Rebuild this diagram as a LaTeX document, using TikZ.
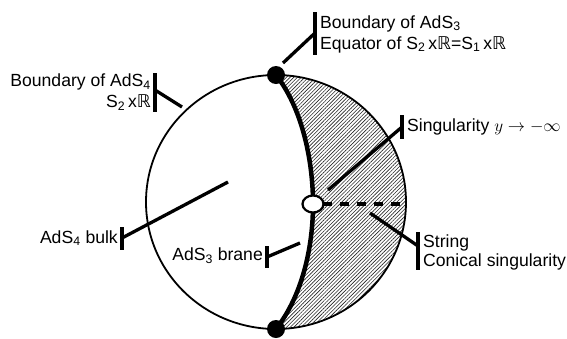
\documentclass[tikz,border=0pt]{standalone}
\usepackage{fontspec}
\setmainfont{Liberation Sans}
\newfontfamily\djv{DejaVu Sans}
\usetikzlibrary{patterns.meta,shapes.geometric}
\newcommand{\RR}{{\djv ℝ}}
\tikzset{
  lbl/.style={font=\fontsize{17.6}{21}\selectfont, inner sep=0pt},
  leader/.style={line width=3.3pt},
  barline/.style={line width=3.3pt},
  rim/.style={line width=1.8pt},
  brane/.style={line width=4.5pt},
}
\begin{document}
\begin{tikzpicture}[x=1pt,y=-1pt]
\useasboundingbox (0,0) rectangle (567,338);
% geometry
\coordinate (C) at (276,202);
\coordinate (T) at (276,75);
\coordinate (B) at (276,329);
\coordinate (Wc) at (313,204);
% hatched region
\fill[pattern={Lines[angle=45,distance=2.6pt,line width=0.6pt]},pattern color=black!85]
  (T) .. controls (302,108) and (313,160) .. (Wc) .. controls (313,248) and (302,296) .. (B)
  arc[start angle=90,end angle=-90,x radius=130,y radius=127] -- cycle;
% outer circle
\draw[rim] (C) ellipse [x radius=130, y radius=127];
% brane
\draw[brane] (T) .. controls (302,108) and (313,160) .. (Wc) .. controls (313,248) and (302,296) .. (B);
% string (dashed)
\coordinate (E) at (406,204);
\draw[line width=3.5pt, dash pattern=on 9pt off 8pt] (Wc) ++(10,0) -- (E);
% dots
\node[circle, fill=black, minimum size=18pt, inner sep=0pt] (dT) at (T) {};
\node[circle, fill=black, minimum size=18pt, inner sep=0pt] (dB) at (B) {};
\node[ellipse, draw=black, line width=2.2pt, fill=white, minimum width=21pt, minimum height=17pt, inner sep=0pt] (W) at (Wc) {};

% label 1
\node[lbl, anchor=west, align=left] (l1) at (320,34) {Boundary of AdS\textsubscript{3}\\Equator of S\textsubscript{2}\,x\RR=S\textsubscript{1}\,x\RR};
\coordinate (b1t) at (315,12); \coordinate (b1b) at (315,55); \coordinate (b1m) at (315,33);
\coordinate (p1) at (283,63);
\draw[barline] (b1t) -- (b1b);
\draw[leader] (b1m) -- (p1);

% label 2
\node[lbl, anchor=east, align=right] (l2) at (151,92) {Boundary of AdS\textsubscript{4}\\S\textsubscript{2}\,x\RR};
\coordinate (b2t) at (155,73); \coordinate (b2b) at (155,112); \coordinate (b2m) at (155,90);
\coordinate (p2) at (182,107);
\draw[barline] (b2t) -- (b2b);
\draw[leader] (b2m) -- (p2);

% label 3
\node[lbl, anchor=west] (l3) at (407,127) {Singularity $y\rightarrow-\infty$};
\coordinate (b3t) at (402,115); \coordinate (b3b) at (402,139); \coordinate (b3m) at (402,127);
\coordinate (p3) at (328,190);
\draw[barline] (b3t) -- (b3b);
\draw[leader] (b3m) -- (p3);

% label 4
\node[lbl, anchor=west, align=left, font=\fontsize{17.6}{19}\selectfont] (l4) at (423,252) {String\\Conical singularity};
\coordinate (b4t) at (418,232); \coordinate (b4b) at (418,270); \coordinate (b4m) at (418,246);
\coordinate (p4) at (370,213);
\draw[barline] (b4t) -- (b4b);
\draw[leader] (b4m) -- (p4);

% label 5
\node[lbl, anchor=east] (l5) at (118,238) {AdS\textsubscript{4} bulk};
\coordinate (b5t) at (122,227); \coordinate (b5b) at (122,250); \coordinate (b5m) at (122,238);
\coordinate (p5) at (228,182);
\draw[barline] (b5t) -- (b5b);
\draw[leader] (b5m) -- (p5);

% label 6
\node[lbl, anchor=east] (l6) at (263,256) {AdS\textsubscript{3} brane};
\coordinate (b6t) at (267,246); \coordinate (b6b) at (267,268); \coordinate (b6m) at (267,257);
\coordinate (p6) at (300,243);
\draw[barline] (b6t) -- (b6b);
\draw[leader] (b6m) -- (p6);
\end{tikzpicture}
\end{document}
